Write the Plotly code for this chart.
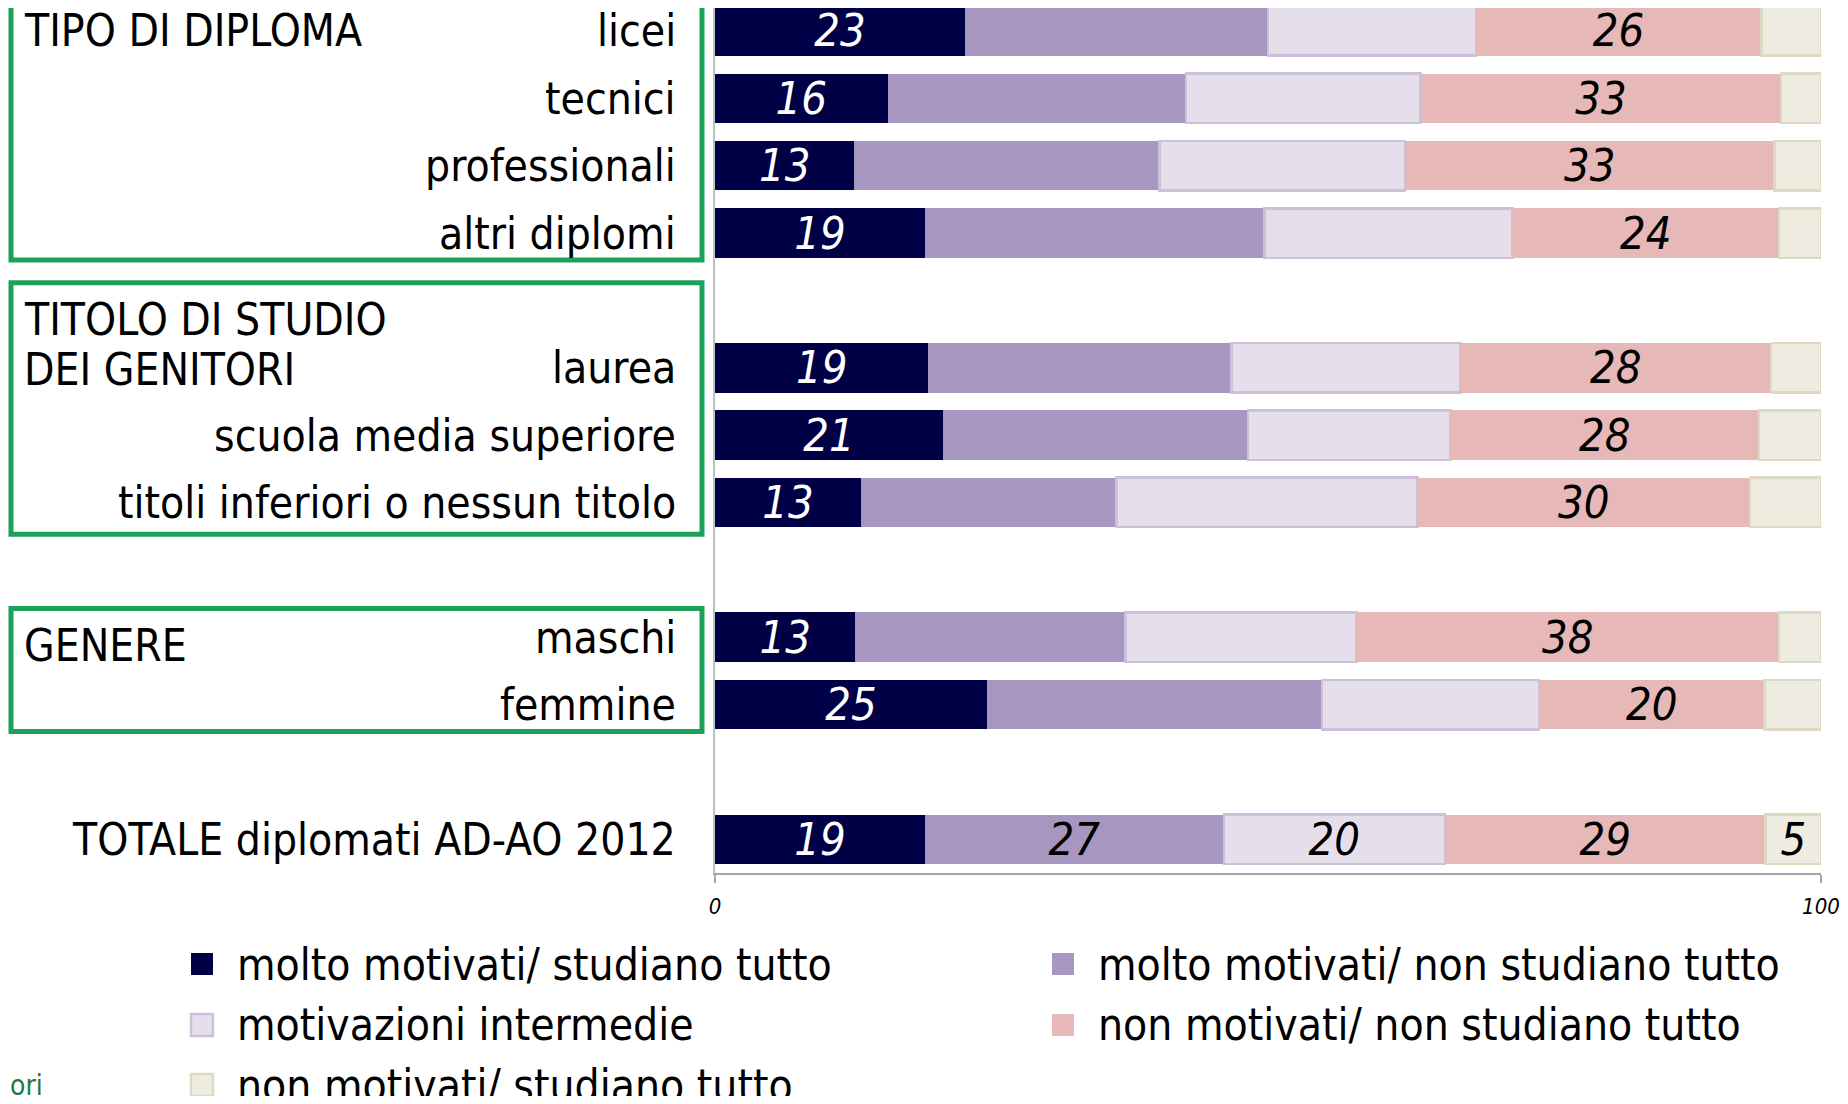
import plotly.graph_objects as go

# ---------------------------------------------------------------------------
# data
# ---------------------------------------------------------------------------
rows = ["licei", "tecnici", "professionali", "altri diplomi",
        "laurea", "scuola media superiore", "titoli inferiori o nessun titolo",
        "maschi", "femmine", "TOTALE diplomati AD-AO 2012"]

# category slots on the y axis (blank names are the empty gaps between groups)
slots = ["licei", "tecnici", "professionali", "altri diplomi", " ",
         "laurea", "scuola media superiore", "titoli inferiori o nessun titolo", "  ",
         "maschi", "femmine", "   ",
         "TOTALE diplomati AD-AO 2012"]

series_names = ["molto motivati/ studiano tutto", "molto motivati/ non studiano tutto",
                "motivazioni intermedie", "non motivati/ non studiano tutto",
                "non motivati/ studiano tutto"]

molto_studiano = [22.6, 15.6, 12.6, 19.0, 19.3, 20.6, 13.2, 12.7, 24.6, 19]
molto_non_studiano = [27.4, 27.0, 27.6, 30.7, 27.4, 27.6, 23.1, 24.4, 30.3, 27]
intermedie = [18.8, 21.2, 22.2, 22.4, 20.7, 18.3, 27.2, 20.9, 19.6, 20]
non_non_studiano = [25.8, 32.6, 33.4, 24.1, 28.1, 27.9, 30.1, 38.2, 20.4, 29]
non_studiano = [5.4, 3.6, 4.2, 3.8, 4.5, 5.6, 6.4, 3.8, 5.1, 5]

groups = [("TIPO DI DIPLOMA", "licei", 0),
          ("TITOLO DI STUDIO", "laurea", 48),
          ("DEI GENITORI", "laurea", -2),
          ("GENERE", "maschi", -8)]

# ---------------------------------------------------------------------------
# styling
# ---------------------------------------------------------------------------
FONT = "DejaVu Sans Condensed, DejaVu Sans, sans-serif"
FILLS = ["#000046", "#A696C0", "#E5DFEC", "#E6B8B7", "#EEECE1"]
EDGES = ["#000046", "#A696C0", "#CCC1DA", "#E6B8B7", "#DDD9C3"]
EDGE_W = [0, 0, 2.5, 0, 2.5]
TXT = ["white", "black", "black", "black", "black"]
GREEN = "#1BA15A"

# the page body keeps an 8px margin, so the figure is 16px smaller than the window
OFF = 8
W, H = 1848 - 2 * OFF, 1104 - 2 * OFF
L, R, T, B = 707, 19, 0, 223
PW, PH = W - L - R, H - T - B
Y_RANGE = [12.5, -0.34]


def px_x(px):
    # page pixel -> paper x
    return (px - OFF - L) / PW


def px_y(py):
    # page pixel -> paper y
    return (T + PH - (py - OFF)) / PH


def slot_y(s):
    return (Y_RANGE[0] - s) / (Y_RANGE[0] - Y_RANGE[1])


values = [molto_studiano, molto_non_studiano, intermedie, non_non_studiano, non_studiano]
last = len(rows) - 1

fig = go.Figure()
for i, (name, vals) in enumerate(zip(series_names, values)):
    if i in (0, 3):
        tpl = ["%{x:.0f}"] * len(rows)
    else:
        tpl = [""] * last + ["%{x:.0f}"]
    fig.add_trace(go.Bar(
        y=rows, x=vals, name=name, orientation="h",
        marker=dict(color=FILLS[i], line=dict(color=EDGES[i], width=EDGE_W[i])),
        texttemplate=tpl, textposition="inside", insidetextanchor="middle",
        textangle=0, constraintext="none",
        textfont=dict(family=FONT, size=45, color=TXT[i], style="italic"),
        showlegend=False, hoverinfo="x+y",
    ))

annotations = []
for r in rows:
    annotations.append(dict(
        text=r, x=0, xref="paper", y=r, yref="y", xanchor="right", yanchor="middle",
        xshift=-37, showarrow=False, font=dict(family=FONT, size=44, color="black")))

for label, anchor, shift in groups:
    annotations.append(dict(
        text=label, x=px_x(22), xref="paper", y=anchor, yref="y", xanchor="left",
        yanchor="middle", yshift=shift, showarrow=False,
        font=dict(family=FONT, size=44, color="black")))

# green frames round the groups (edges in slot units)
shapes = []
for top, bottom in [(-1.0, 3.40), (3.74, 7.47), (8.575, 10.40)]:
    shapes.append(dict(
        type="rect", xref="paper", yref="paper",
        x0=px_x(OFF + 3), x1=px_x(702), y0=slot_y(bottom), y1=slot_y(top),
        line=dict(color=GREEN, width=5), fillcolor="rgba(0,0,0,0)", layer="above"))

# legend, drawn by hand: two columns
leg_cols = [191, 1052]
leg_rows = [964, 1025, 1085]
for i, name in enumerate(series_names):
    cx = leg_cols[i % 2]
    cy = leg_rows[i // 2]
    shapes.append(dict(
        type="rect", xref="paper", yref="paper",
        xsizemode="pixel", ysizemode="pixel",
        xanchor=px_x(cx), yanchor=px_y(cy),
        x0=0, x1=22, y0=-11, y1=11,
        fillcolor=FILLS[i], line=dict(color=EDGES[i], width=EDGE_W[i])))
    annotations.append(dict(
        text=name, x=px_x(cx + 44), xref="paper", y=px_y(cy), yref="paper",
        xanchor="left", yanchor="middle", showarrow=False,
        font=dict(family=FONT, size=44, color="black")))

annotations.append(dict(
    text="ori", x=px_x(OFF), xref="paper", y=px_y(1085), yref="paper",
    xanchor="left", yanchor="middle", showarrow=False,
    font=dict(family=FONT, size=28, color="#1E7A3C")))

fig.update_layout(
    width=W, height=H,
    margin=dict(l=L, r=R, t=T, b=B, pad=0),
    barmode="stack", bargap=0.265,
    plot_bgcolor="white", paper_bgcolor="white",
    font=dict(family=FONT, color="black"),
    annotations=annotations, shapes=shapes,
    showlegend=False,
)
fig.update_xaxes(
    range=[0, 100], tickvals=[0, 100], ticktext=["0", "100"],
    showgrid=False, zeroline=False, showline=True, linecolor="#A6A6A6", linewidth=1.5,
    ticks="outside", ticklen=8, tickcolor="#A6A6A6", tickwidth=1.5,
    ticklabelstandoff=5, ticklabeloverflow="allow",
    tickfont=dict(family=FONT, size=22, color="black", style="italic"),
)
fig.update_yaxes(
    type="category", categoryorder="array", categoryarray=slots, range=Y_RANGE,
    showticklabels=False, ticks="", showgrid=False, zeroline=False,
    showline=True, linecolor="#BFBFBF", linewidth=1.5,
)

fig.write_html("out.html")
